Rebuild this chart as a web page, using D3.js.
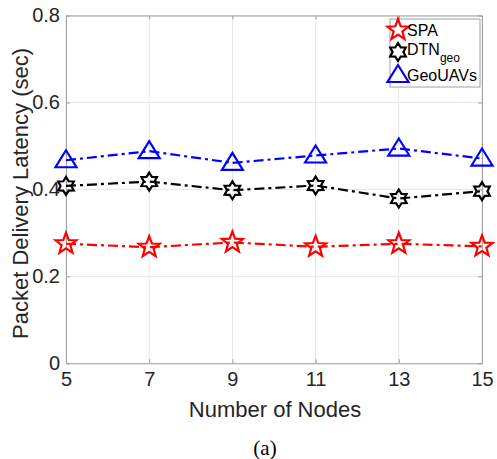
<!DOCTYPE html>
<html><head><meta charset="utf-8">
<script src="https://cdn.jsdelivr.net/npm/d3@7"></script>
<style>body{margin:0;background:#fff}svg{display:block}</style>
</head><body>
<svg id="c" width="497" height="459"></svg>
<script>
const nodes = [5, 7, 9, 11, 13, 15];
const spa = [0.275, 0.267, 0.278, 0.268, 0.275, 0.269];
const dtn = [0.408, 0.418, 0.398, 0.409, 0.379, 0.396];
const geo = [0.467, 0.488, 0.461, 0.478, 0.494, 0.471];
const yTicks = [0, 0.2, 0.4, 0.6, 0.8];
const seriesNames = ["SPA", "DTN", "GeoUAVs"];

const svg = d3.select("#c");
const L = 66, R = 482, T = 15.5, B = 363.3;
const x = d3.scaleLinear().domain([5, 15]).range([L, R]);
const y = d3.scaleLinear().domain([0, 0.8]).range([B, T]);
const font = "'Liberation Sans', Arial, Helvetica, sans-serif";
const axisCol = "#262626";

// grid
const g = svg.append("g");
g.selectAll(".gx").data(nodes).enter().append("line")
  .attr("x1", d => x(d)).attr("x2", d => x(d)).attr("y1", T).attr("y2", B)
  .attr("stroke", "#e6e6e6").attr("stroke-width", 1);
g.selectAll(".gy").data(yTicks).enter().append("line")
  .attr("x1", L).attr("x2", R).attr("y1", d => y(d)).attr("y2", d => y(d))
  .attr("stroke", "#e6e6e6").attr("stroke-width", 1);

// axes
const xAxis = d3.axisBottom(x).tickValues(nodes).tickSizeInner(-4).tickSizeOuter(0).tickPadding(9);
const yAxis = d3.axisLeft(y).tickValues(yTicks).tickFormat(d => d === 0 ? "0" : d3.format(".1f")(d)).tickSizeInner(-4).tickSizeOuter(0).tickPadding(6);
svg.append("g").attr("transform", `translate(0,${B})`).call(xAxis);
svg.append("g").attr("transform", `translate(${L},0)`).call(yAxis);
svg.append("g").attr("transform", `translate(0,${T})`).call(d3.axisTop(x).tickValues(nodes).tickSizeInner(-4).tickSizeOuter(0).tickFormat(""));
svg.append("g").attr("transform", `translate(${R},0)`).call(d3.axisRight(y).tickValues(yTicks).tickSizeInner(-4).tickSizeOuter(0).tickFormat(""));
svg.selectAll(".domain").attr("stroke", "#a0a0a0");
svg.selectAll(".tick line").attr("stroke", "#a0a0a0");
svg.selectAll(".tick text").attr("font-family", font).attr("font-size", 20).attr("fill", axisCol);

// markers
function pentagram(r) {
  const pts = [];
  for (let i = 0; i < 10; i++) {
    const rr = i % 2 === 0 ? r : r * 0.42;
    const a = -Math.PI / 2 + i * Math.PI / 5;
    pts.push([rr * Math.cos(a), rr * Math.sin(a)]);
  }
  return "M" + pts.map(p => p.join(",")).join("L") + "Z";
}
function hexagram(r) {
  const pts = [];
  for (let i = 0; i < 12; i++) {
    const rr = i % 2 === 0 ? r : r * 0.6;
    const a = -Math.PI / 2 + i * Math.PI / 6;
    pts.push([rr * Math.cos(a), rr * Math.sin(a)]);
  }
  return "M" + pts.map(p => p.join(",")).join("L") + "Z";
}
function triangle(r) {
  return `M0,${-r}L${r*1.05},${r*0.7}L${-r*1.05},${r*0.7}Z`;
}
const series = [
  {name: seriesNames[0], vals: spa, color: "#ff0000", shape: pentagram(11)},
  {name: seriesNames[1], vals: dtn, color: "#000000", shape: hexagram(9)},
  {name: seriesNames[2], vals: geo, color: "#0000ff", shape: triangle(10)}
];
const line = d3.line().x((d, i) => x(nodes[i])).y(d => y(d));
series.forEach(s => {
  svg.append("path").attr("d", line(s.vals)).attr("fill", "none")
    .attr("stroke", s.color).attr("stroke-width", 2.2)
    .attr("stroke-dasharray", "10,4,3,4");
  svg.selectAll(null).data(s.vals).enter().append("path")
    .attr("d", s.shape)
    .attr("transform", (d, i) => `translate(${x(nodes[i])},${y(d)})`)
    .attr("fill", "none").attr("stroke", s.color).attr("stroke-width", 2.2);
});

// legend
const lg = svg.append("g");
lg.append("rect").attr("x", 390).attr("y", 19).attr("width", 90).attr("height", 68)
  .attr("fill", "#fff").attr("stroke", "#a0a0a0").attr("stroke-width", 1);
const ly = [30, 52, 75];
series.forEach((s, i) => {
  lg.append("path").attr("d", s.shape).attr("transform", `translate(398,${ly[i]})`)
    .attr("fill", "none").attr("stroke", s.color).attr("stroke-width", 2.2);
});
lg.append("text").attr("x", 407).attr("y", ly[0] + 6).attr("font-family", font).attr("font-size", 16).attr("fill", "#000").text("SPA");
const t2 = lg.append("text").attr("x", 407).attr("y", ly[1] + 3).attr("font-family", font).attr("font-size", 16).attr("fill", "#000");
t2.append("tspan").text("DTN");
t2.append("tspan").attr("dy", 7).attr("font-size", 12).text("geo");
lg.append("text").attr("x", 407).attr("y", ly[2] + 6).attr("font-family", font).attr("font-size", 16).attr("fill", "#000").text("GeoUAVs");

// labels
svg.append("text").attr("x", 275).attr("y", 417).attr("text-anchor", "middle")
  .attr("font-family", font).attr("font-size", 22).attr("fill", axisCol).text("Number of Nodes");
svg.append("text").attr("transform", `translate(28,${(T + B) / 2 + 4}) rotate(-90)`).attr("text-anchor", "middle")
  .attr("font-family", font).attr("font-size", 22).attr("fill", axisCol).text("Packet Delivery Latency (sec)");
svg.append("text").attr("x", 265).attr("y", 455).attr("text-anchor", "middle")
  .attr("font-family", "'Liberation Serif', 'Times New Roman', serif").attr("font-size", 21).attr("fill", "#000").text("(a)");
</script>
</body></html>
